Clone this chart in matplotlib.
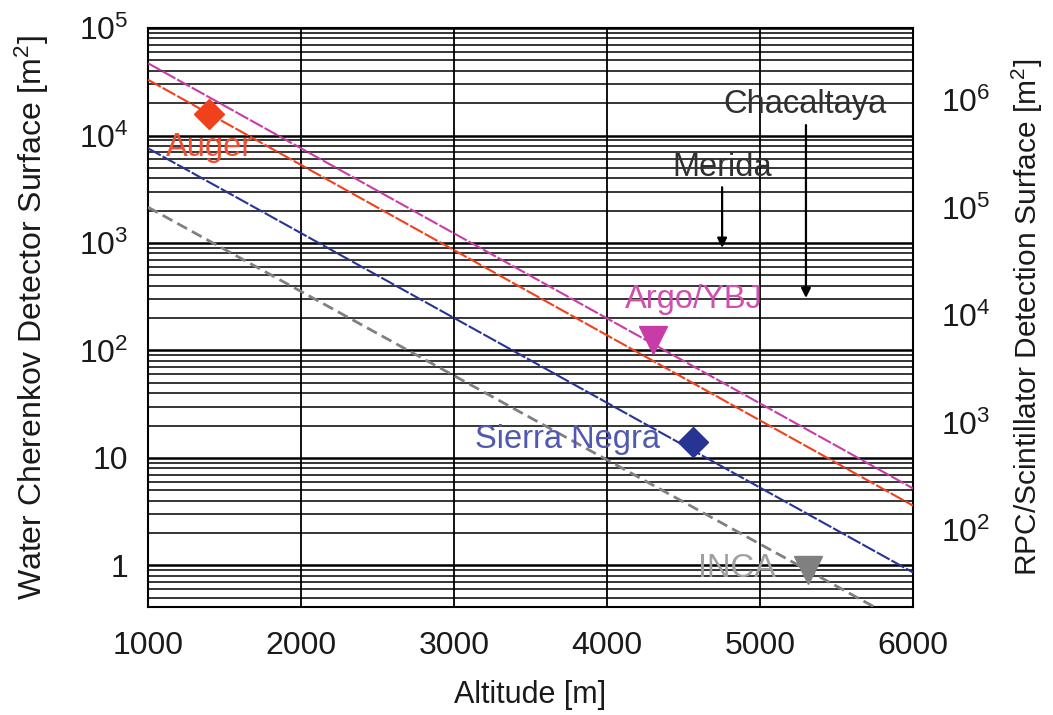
import numpy as np
import matplotlib
matplotlib.use("Agg")
import matplotlib.pyplot as plt
from matplotlib.ticker import FixedLocator, LogLocator, NullFormatter

plt.rcParams['font.family'] = ['Liberation Sans', 'DejaVu Sans']
plt.rcParams['mathtext.fontset'] = 'custom'
plt.rcParams['mathtext.rm'] = 'Liberation Sans'
plt.rcParams['mathtext.it'] = 'Liberation Sans:italic'
plt.rcParams['mathtext.bf'] = 'Liberation Sans:bold'

# Required detector surface vs. altitude (end points of each scaling line)
altitude_range = [1000, 6000]
argo_line = [47000, 5.2]
auger_line = [33000, 3.6]
sierra_line = [7600, 0.86]
inca_line = [2150, 0.26]

# Existing / planned sites
site_names = ["Auger", "Argo/YBJ", "Sierra Negra", "INCA"]
site_altitude = [1400, 4300, 4562, 5314]
site_surface = [15800, 125, 14, 0.9]

# Sites marked only by arrows
arrow_names = ["Merida", "Chacaltaya"]
arrow_altitude = [4752, 5300]
arrow_from = [3300, 12500]
arrow_to = [900, 308]

x_ticks = [1000, 2000, 3000, 4000, 5000, 6000]
left_ticks = [1, 10, 1e2, 1e3, 1e4, 1e5]
left_labels = ["1", "10", r"$10^2$", r"$10^3$", r"$10^4$", r"$10^5$"]
right_ticks = [1e2, 1e3, 1e4, 1e5, 1e6]
right_labels = [r"$10^2$", r"$10^3$", r"$10^4$", r"$10^5$", r"$10^6$"]
rpc_per_wcd = 47.0

c_argo = "#c83ca8"
c_auger = "#f0401c"
c_sierra = "#283494"
c_inca = "#808080"
tc = "#1a1a1a"

fig = plt.figure(figsize=(10.53, 7.15), dpi=100)
ax = fig.add_axes([0.1406, 0.151, 0.7265, 0.8098])
ax.set_yscale("log")
ylim = (0.41, 1e5)
ax.set_xlim(1000, 6000)
ax.set_ylim(*ylim)

# grid: every minor decade step plus thicker decade lines
ax.yaxis.set_major_locator(FixedLocator(left_ticks))
ax.yaxis.set_minor_locator(LogLocator(base=10, subs=np.arange(2, 10)))
ax.yaxis.set_minor_formatter(NullFormatter())
ax.set_yticks(left_ticks)
ax.set_yticklabels(left_labels)
ax.set_xticks(x_ticks)
ax.grid(True, which="minor", axis="y", color="black", lw=1.1)
ax.grid(True, which="major", axis="y", color="black", lw=1.8)
ax.grid(True, which="major", axis="x", color="black", lw=1.3)
ax.set_axisbelow(True)
for s in ax.spines.values():
    s.set_linewidth(1.5)
    s.set_color("black")

ax.tick_params(axis="both", which="both", length=0)
ax.tick_params(axis="y", labelsize=23, pad=14, colors=tc)
ax.tick_params(axis="x", labelsize=23, pad=17, colors=tc)

ax.set_xlabel("Altitude [m]", fontsize=22, color=tc, labelpad=14)
ax.set_ylabel(r"Water Cherenkov Detector Surface [m$^2$]", fontsize=23, color=tc, labelpad=20)

# scaling lines
ax.plot(altitude_range, argo_line, color=c_argo, lw=1.5, ls=(0, (7, 1.0)), zorder=3)
ax.plot(altitude_range, auger_line, color=c_auger, lw=1.5, ls=(0, (7, 1.0)), zorder=3)
ax.plot(altitude_range, sierra_line, color=c_sierra, lw=1.5, ls=(0, (7, 1.0)), zorder=3)
ax.plot(altitude_range, inca_line, color=c_inca, lw=2.0, ls=(0, (4, 2)), zorder=3)

# site markers
ax.plot(site_altitude[0], site_surface[0], marker="D", ms=15, color=c_auger, ls="none", zorder=4)
ax.plot(site_altitude[1], site_surface[1], marker="v", ms=20, color=c_argo, ls="none", zorder=4)
ax.plot(site_altitude[2], site_surface[2], marker="D", ms=15, color=c_sierra, ls="none", zorder=4)
ax.plot(site_altitude[3], site_surface[3], marker="v", ms=20, color=c_inca, ls="none", zorder=4)

# site labels
fs_lab = 23.5
ax.text(1400, 7800, site_names[0], color="#f05030", fontsize=fs_lab, ha="center", va="center", zorder=5)
ax.text(4569, 300, site_names[1], color="#d050b0", fontsize=fs_lab, ha="center", va="center", zorder=5)
ax.text(3739, 15, site_names[2], color="#5058b0", fontsize=fs_lab, ha="center", va="center", zorder=5)
ax.text(4850, 0.93, site_names[3], color="#a0a0a0", fontsize=fs_lab, ha="center", va="center", zorder=5)

# arrow-only sites
ax.text(4752, 5000, arrow_names[0], color="#303030", fontsize=fs_lab, ha="center", va="center", zorder=5)
ax.text(5294, 19300, arrow_names[1], color="#303030", fontsize=fs_lab, ha="center", va="center", zorder=5)
for xa, y0, y1 in zip(arrow_altitude, arrow_from, arrow_to):
    ax.annotate("", xy=(xa, y1), xytext=(xa, y0),
                arrowprops=dict(arrowstyle="-|>", color="black", lw=1.6,
                                mutation_scale=14, shrinkA=0, shrinkB=0),
                zorder=5)

# secondary axis for RPC/scintillator surface
ax2 = ax.twinx()
ax2.set_yscale("log")
ax2.set_ylim(ylim[0] * rpc_per_wcd, ylim[1] * rpc_per_wcd)
ax2.yaxis.set_major_locator(FixedLocator(right_ticks))
ax2.yaxis.set_minor_locator(FixedLocator([]))
ax2.set_yticklabels(right_labels)
ax2.tick_params(axis="y", which="both", length=0, labelsize=23, pad=20, colors=tc)
ax2.set_ylabel(r"RPC/Scintillator Detection Surface [m$^2$]", fontsize=21.5, color=tc)
ax2.yaxis.set_label_coords(1.127, 0.5)
for s in ax2.spines.values():
    s.set_visible(False)

fig.savefig("out.png", dpi=100)
